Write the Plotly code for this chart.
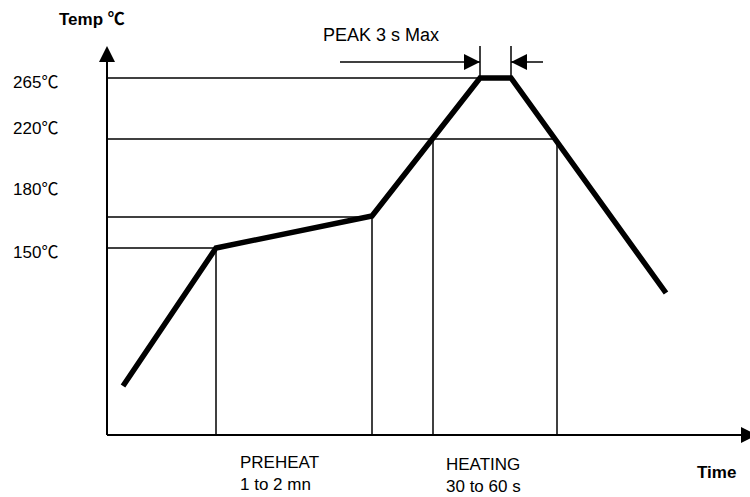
import plotly.graph_objects as go

# Schematic reflow-profile drawing units (x: time axis units, y: temperature axis units, y grows downward)
AXIS_ORIGIN_X = 107
AXIS_ORIGIN_Y = 435
Y_AXIS_TOP = 46
X_AXIS_END = 757

# Temperature profile (thick line)
profile_time = [123, 216, 372, 480, 511, 666]
profile_temp = [386, 248, 216, 78, 78, 293]

# Horizontal temperature guide levels: level position and where each guide ends
level_pos = [78, 139, 217, 248]
level_end = [480, 557, 372, 216]

# Temperature tick labels and their vertical positions
level_values = ["265", "220", "180", "150"]
level_label_pos = [80, 126, 187, 250]

# Vertical time guides: x position and top end
vline_x = [216, 372, 433, 557]
vline_top = [248, 216, 139, 139]

# Peak duration markers
peak_marks_x = [480, 511]
peak_marks_top = 46
peak_arrow_y = 62
peak_arrow_from = [340, 543]

fig = go.Figure()

# guide lines
gx, gy = [], []
for yv, xe in zip(level_pos, level_end):
    gx += [AXIS_ORIGIN_X, xe, None]
    gy += [yv, yv, None]
for xv, yt in zip(vline_x, vline_top):
    gx += [xv, xv, None]
    gy += [yt, AXIS_ORIGIN_Y, None]
for xv in peak_marks_x:
    gx += [xv, xv, None]
    gy += [peak_marks_top, profile_temp[3], None]
fig.add_trace(go.Scatter(x=gx, y=gy, mode="lines", line=dict(color="black", width=1.5),
                         hoverinfo="skip", showlegend=False))

# arrow shafts for peak
ax_, ay_ = [], []
for xf, xt in zip(peak_arrow_from, peak_marks_x):
    ax_ += [xf, xt, None]
    ay_ += [peak_arrow_y, peak_arrow_y, None]
fig.add_trace(go.Scatter(x=ax_, y=ay_, mode="lines", line=dict(color="black", width=1.5),
                         hoverinfo="skip", showlegend=False))

# axes lines
fig.add_trace(go.Scatter(x=[AXIS_ORIGIN_X, AXIS_ORIGIN_X, None, AXIS_ORIGIN_X, X_AXIS_END],
                         y=[Y_AXIS_TOP + 8, AXIS_ORIGIN_Y, None, AXIS_ORIGIN_Y, AXIS_ORIGIN_Y],
                         mode="lines", line=dict(color="black", width=2),
                         hoverinfo="skip", showlegend=False))

# arrowheads
fig.add_trace(go.Scatter(x=[AXIS_ORIGIN_X], y=[Y_AXIS_TOP], mode="markers",
                         marker=dict(symbol="arrow-up", size=16, color="black", line=dict(width=0)),
                         hoverinfo="skip", showlegend=False))
fig.add_trace(go.Scatter(x=[X_AXIS_END, peak_marks_x[0]], y=[AXIS_ORIGIN_Y, peak_arrow_y], mode="markers",
                         marker=dict(symbol="arrow-right", size=16, color="black", line=dict(width=0)),
                         hoverinfo="skip", showlegend=False))
fig.add_trace(go.Scatter(x=[peak_marks_x[1]], y=[peak_arrow_y], mode="markers",
                         marker=dict(symbol="arrow-left", size=16, color="black", line=dict(width=0)),
                         hoverinfo="skip", showlegend=False))

# profile
fig.add_trace(go.Scatter(x=profile_time, y=profile_temp, mode="lines",
                         line=dict(color="black", width=5.5), hoverinfo="skip", showlegend=False))

FONT = "Liberation Sans, Arial, sans-serif"
DEG = "<span style='font-family:Noto Sans CJK SC'>℃</span>"
ann = []
def txt(x, y, t, size=18, bold=False, anchor="left"):
    ann.append(dict(x=x, y=y, xref="x", yref="y", text=("<b>%s</b>" % t) if bold else t,
                    showarrow=False, xanchor=anchor, yanchor="middle", borderpad=0, align="left",
                    font=dict(family=FONT, size=size, color="black")))

txt(58, 17, "Temp " + DEG, size=17, bold=True)
for val, yp in zip(level_values, level_label_pos):
    txt(59, yp, val + DEG, size=17, anchor="right")
txt(322, 35, "PEAK 3 s Max", size=18)
txt(239, 473, "PREHEAT<br>1 to 2 mn", size=17)
txt(445, 475, "HEATING<br>30 to 60 s", size=17)
txt(696, 472, "Time", size=17, bold=True)

fig.update_layout(
    width=750, height=497, margin=dict(l=0, r=0, t=0, b=0),
    paper_bgcolor="white", plot_bgcolor="white",
    xaxis=dict(range=[0, 750], visible=False, fixedrange=True),
    yaxis=dict(range=[497, 0], visible=False, fixedrange=True),
    annotations=ann,
)
fig.write_html("out.html", config={"displayModeBar": False, "staticPlot": True},
               post_script="document.body.style.margin='0';document.body.style.overflow='hidden';")
